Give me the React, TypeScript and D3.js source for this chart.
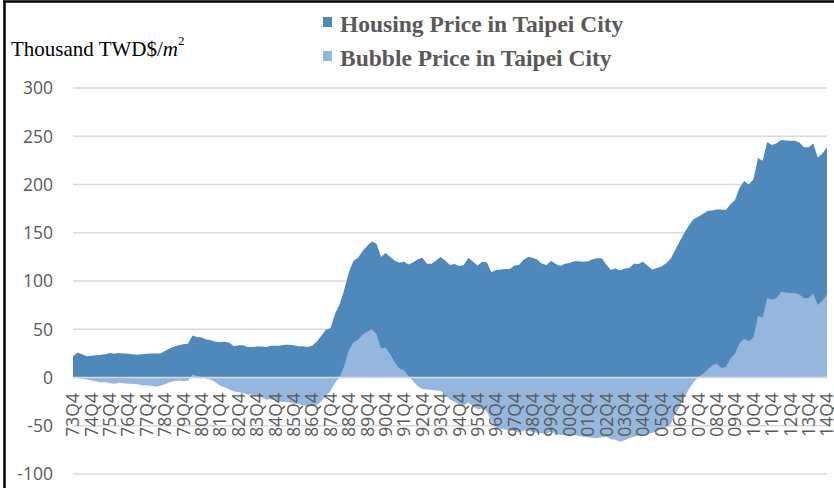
import React from 'react';
import * as d3 from 'd3';

// quarterly series, 73Q4 .. 14Q4 (thousand TWD per m2)
const housing = [
  22, 26, 24, 22, 22.5, 23, 23.5, 24, 25.5, 24.5,
  25.5, 25, 24.5, 24, 23.5, 24, 24.5, 25, 25, 25,
  27.5, 30, 32, 33.5, 34.5, 35, 43.5, 42, 41.5, 39.5,
  38.5, 37, 36.5, 37, 36, 32.5, 33.5, 33.5, 31.5, 31.5,
  32, 32, 31.5, 33, 33, 33, 34, 34, 33.5, 32.5,
  32.5, 31.5, 33, 37, 43, 49.5, 51, 66, 76, 91,
  109, 121, 124, 131, 136.5, 141, 138.5, 125, 129, 125,
  121, 119, 120, 117, 119.5, 122.5, 124, 118, 118, 121.5,
  125, 121, 116.5, 117.5, 115.5, 116.5, 124, 120, 116, 120,
  119.5, 109, 111.5, 112, 112.5, 112.5, 116, 116.5, 122, 125,
  124, 122, 118, 116.7, 121, 117.5, 115.5, 118, 118.7, 120.5,
  120.5, 120, 120.5, 122.5, 123.5, 123.5, 117, 111.5, 113, 111,
  113, 113.5, 118, 117.5, 120, 115.5, 112, 113.5, 115, 118.5,
  123, 132.5, 141.5, 150, 158, 164, 166.5, 169.5, 172.5, 173,
  174, 174, 173.5, 179.5, 184, 197, 203.5, 200, 205.5, 227.5,
  224.5, 244, 241, 242.5, 246, 245.5, 245.3, 245.3, 243.6, 238.5,
  238.5, 242.5, 228, 232, 238.5,
];

const bubble = [
  0, -0.5, -1.2, -2, -3, -4, -4.8, -5, -6, -6.5,
  -5.5, -6, -6.5, -6.5, -7, -8, -8, -8.5, -9.3, -8.5,
  -7, -5, -4, -3, -3.5, -3.5, 3, 1.5, 0.5, -1,
  -2.4, -5, -8.5, -10, -12.5, -14.5, -15, -16, -18, -17.5,
  -19.5, -20.5, -23, -22.5, -23.5, -25, -25, -26, -27, -27.5,
  -28.5, -30, -29.5, -28.5, -24.5, -19, -14, -5.5, 0.5, 12,
  28.5, 36.5, 39, 44.5, 47.5, 50, 45, 30, 31, 24,
  15.5, 9.3, 7.4, 1, -4, -9, -12, -12.5, -13, -13.5,
  -14, -18, -23, -25, -28, -29, -26, -30, -33, -32,
  -35, -45, -52, -53, -54, -55, -55.5, -57, -55, -55.5,
  -56.5, -57.5, -58, -58, -56, -58.5, -59.5, -59.5, -59.5, -59.5,
  -60.5, -61.5, -62, -62.5, -63, -62, -61.5, -64, -64.5, -66.5,
  -65, -63, -61.5, -60, -59, -58.5, -57.5, -55.5, -53.5, -51.5,
  -48.5, -38, -30, -20, -12, -5, 0.5, 3.5, 8, 12.5,
  14.5, 10, 10.5, 19.5, 25, 36, 40, 37.5, 41.5, 64,
  62, 82.5, 80.5, 82, 88.5, 88, 87.5, 87.5, 86, 82,
  82.5, 87, 75.2, 79.5, 86,
];

const tickLabels = [
  '73Q4', '74Q4', '75Q4', '76Q4', '77Q4', '78Q4', '79Q4', '80Q4', '81Q4', '82Q4',
  '83Q4', '84Q4', '85Q4', '86Q4', '87Q4', '88Q4', '89Q4', '90Q4', '91Q4', '92Q4',
  '93Q4', '94Q4', '95Q4', '96Q4', '97Q4', '98Q4', '99Q4', '00Q4', '01Q4', '02Q4',
  '03Q4', '04Q4', '05Q4', '06Q4', '07Q4', '08Q4', '09Q4', '10Q4', '11Q4', '12Q4',
  '13Q4', '14Q4',
];

const yTicks = [-100, -50, 0, 50, 100, 150, 200, 250, 300];
const seriesNames = ['Housing Price in Taipei City', 'Bubble Price in Taipei City'];

const width = 834;
const height = 488;
const colors = ['#4f88bb', '#95b7de'];
const grid = '#d9d9d9';
const textColor = '#595959';
const tickFont = '"Open Sans", "Liberation Sans", sans-serif';

// quarter keys: index 0 is 73Q4
const quarters = housing.map((_, i) => {
  const y = (73 + Math.floor((i + 3) / 4)) % 100;
  const q = ((i + 3) % 4) + 1;
  return `${String(y).padStart(2, '0')}Q${q}`;
});

export default function App() {
  const x = d3.scalePoint<string>().domain(quarters).range([73, 827]);
  const y = d3.scaleLinear().domain([-100, 300]).range([474, 88]);

  const areaOf = (vals: number[]) =>
    d3.area<number>()
      .x((_, i) => x(quarters[i]) as number)
      .y0(y(0))
      .y1(d => y(d))(vals) as string;

  return (
    <svg width={width} height={height} style={{ position: 'absolute', left: 0, top: 0, background: '#fff' }}>
      {/* frame edges */}
      <line x1={4.5} y1={1} x2={4.5} y2={height} stroke="#000" strokeWidth={2.5} />
      <line x1={3} y1={1.5} x2={width} y2={1.5} stroke="#000" strokeWidth={2.5} />

      {yTicks.map(t => (
        <g key={t}>
          <line x1={73} x2={827} y1={y(t)} y2={y(t)} stroke={grid} strokeWidth={1.3} />
          <text x={53} y={y(t)} dy="0.36em" textAnchor="end" fontFamily={tickFont} fontSize={17.5} fill={textColor}>{t}</text>
        </g>
      ))}

      <path d={areaOf(housing)} fill={colors[0]} />
      <path d={areaOf(bubble)} fill={colors[1]} />
      <line x1={73} x2={827} y1={y(0)} y2={y(0)} stroke={grid} strokeWidth={1.5} />

      {tickLabels.map((lab, k) => {
        const px = x(quarters[k * 4]) as number;
        return (
          <text key={lab} transform={`translate(${px},393) rotate(-90)`} dy="0.36em" textAnchor="end"
            fontFamily={tickFont} fontSize={17.5} fill={textColor}>{lab}</text>
        );
      })}

      {/* unit label */}
      <text x={11} y={56} fontFamily='"Liberation Serif", serif' fontSize={21} fill="#000">
        Thousand TWD$/<tspan fontStyle="italic">m</tspan><tspan dy={-11} fontSize={13}>2</tspan>
      </text>

      {/* legend */}
      {seriesNames.map((name, i) => (
        <g key={name} transform={`translate(323,${17 + i * 34})`}>
          <rect x={0} y={0} width={9} height={10} fill={colors[i]} />
          <text x={17} y={15} fontFamily='"Liberation Serif", serif' fontWeight="bold" fontSize={23.5} fill={textColor}>{name}</text>
        </g>
      ))}
    </svg>
  );
}
